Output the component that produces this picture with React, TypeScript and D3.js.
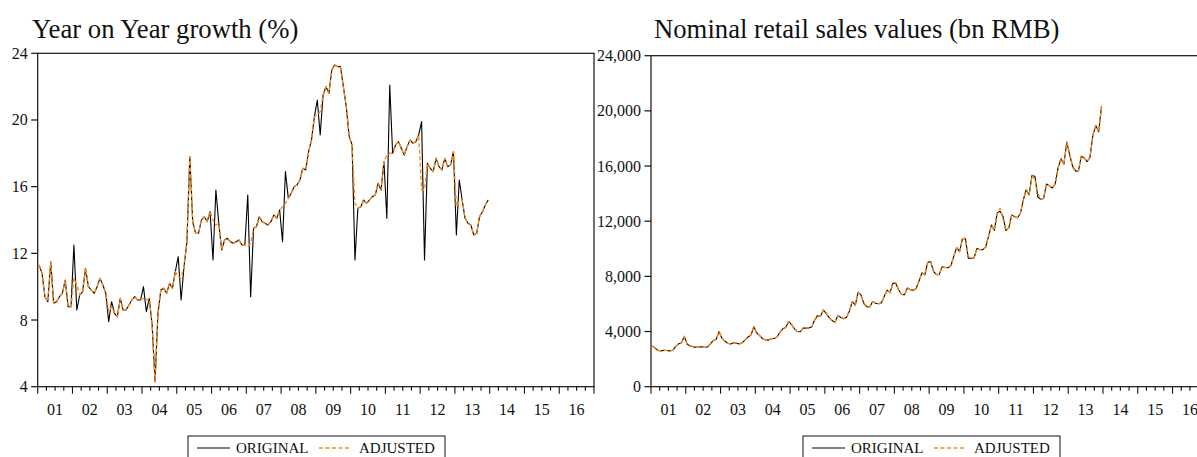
import React from 'react';
import * as d3 from 'd3';

// ---------- DATA ----------
const yearLabels = ['01','02','03','04','05','06','07','08','09','10','11','12','13','14','15','16'];
const yoyTicks = [4, 8, 12, 16, 20, 24];
const salesTicks = [0, 4000, 8000, 12000, 16000, 20000, 24000];
const legendLabels = ['ORIGINAL', 'ADJUSTED'];

const yoyOriginal = [
  11.3, 10.8, 9.4, 9.1, 11.5, 9.0, 9.1, 9.4, 9.6, 10.4, 8.8, 8.8,
  12.5, 8.6, 9.5, 9.7, 11.1, 10.0, 9.8, 9.6, 10.0, 10.5, 10.1, 9.6,
  7.9, 9.1, 8.4, 8.2, 9.3, 8.6, 8.6, 8.9, 9.2, 9.4, 9.2, 9.2,
  10.0, 8.5, 9.3, 7.7, 4.3, 8.4, 9.8, 9.9, 9.6, 10.2, 9.9, 10.9,
  11.8, 9.2, 11.2, 12.7, 17.8, 13.9, 13.2, 13.2, 14.0, 14.2, 13.9, 14.5,
  11.6, 15.8, 13.8, 12.2, 12.8, 12.9, 12.7, 12.6, 12.7, 12.8, 12.5, 12.5,
  15.5, 9.4, 13.5, 13.6, 14.2, 13.9, 13.8, 13.7, 13.9, 14.3, 14.1, 14.6,
  12.7, 16.9, 15.3, 15.6, 16.0, 16.1, 16.4, 17.1, 17.0, 18.1, 18.8, 20.2,
  21.2, 19.1, 21.5, 22.0, 21.6, 23.0, 23.3, 23.2, 23.2, 22.0, 20.8, 19.0,
  18.5, 11.6, 14.7, 14.8, 15.2, 15.0, 15.2, 15.4, 15.5, 16.2, 15.8, 17.5,
  14.1, 22.1, 18.0, 18.5, 18.7, 18.3, 17.9, 18.4, 18.8, 18.6, 18.7, 19.1,
  19.9, 11.6, 17.4, 17.1, 16.9, 17.7, 17.2, 17.0, 17.7, 17.2, 17.3, 18.1,
  13.1, 16.4, 15.2, 14.1, 13.8, 13.7, 13.1, 13.2, 14.2, 14.5, 14.9, 15.2,
];

const yoyAdjusted = [
  11.3, 10.8, 9.4, 9.1, 11.5, 9.0, 9.1, 9.4, 9.6, 10.4, 8.8, 8.8,
  10.5, 10.1, 9.5, 9.7, 11.1, 10.0, 9.8, 9.6, 10.0, 10.5, 10.1, 9.6,
  8.5, 8.8, 8.4, 8.2, 9.3, 8.6, 8.6, 8.9, 9.2, 9.4, 9.2, 9.2,
  9.3, 9.2, 9.3, 7.7, 4.3, 8.4, 9.8, 9.9, 9.6, 10.2, 9.9, 10.9,
  10.6, 10.5, 11.2, 12.7, 17.8, 13.9, 13.2, 13.2, 14.0, 14.2, 13.9, 14.5,
  14.0, 13.7, 13.8, 12.2, 12.8, 12.9, 12.7, 12.6, 12.7, 12.8, 12.5, 12.5,
  12.4, 12.6, 13.5, 13.6, 14.2, 13.9, 13.8, 13.7, 13.9, 14.3, 14.1, 14.6,
  14.8, 15.0, 15.3, 15.6, 16.0, 16.1, 16.4, 17.1, 17.0, 18.1, 18.8, 20.2,
  20.3, 20.5, 21.5, 22.0, 21.6, 23.0, 23.3, 23.2, 23.2, 22.0, 20.8, 19.0,
  18.5, 15.0, 14.7, 14.8, 15.2, 15.0, 15.2, 15.4, 15.5, 16.2, 15.8, 17.5,
  17.9, 18.0, 18.0, 18.5, 18.7, 18.3, 17.9, 18.4, 18.8, 18.6, 18.7, 19.1,
  15.8, 15.8, 17.4, 17.1, 16.9, 17.7, 17.2, 17.0, 17.7, 17.2, 17.3, 18.1,
  14.8, 15.1, 15.2, 14.1, 13.8, 13.7, 13.1, 13.2, 14.2, 14.5, 14.9, 15.2,
];

const salesOriginal = [
  2950, 2780, 2620, 2600, 2640, 2620, 2600, 2640, 2900, 3100, 3180, 3650,
  3080, 2960, 2900, 2850, 2880, 2900, 2850, 2880, 3100, 3350, 3440, 3990,
  3500, 3300, 3150, 3100, 3180, 3150, 3100, 3200, 3390, 3600, 3750, 4350,
  3900, 3700, 3480, 3400, 3380, 3480, 3500, 3600, 3950, 4200, 4290, 4730,
  4500, 4200, 4000, 3980, 4250, 4250, 4250, 4350, 4850, 5150, 5100, 5560,
  5300, 5012, 4799, 4663, 5175, 5014, 4935, 5040, 5495, 6176, 5909, 6850,
  6645, 6001, 5799, 5783, 6170, 6053, 6012, 6078, 6554, 6998, 6822, 7501,
  7489, 7015, 6686, 6674, 7157, 7027, 6998, 7117, 7668, 8265, 8105, 9016,
  9077, 8355, 8123, 8142, 8703, 8643, 8629, 8768, 9447, 10083, 9791, 10729,
  10757, 9324, 9317, 9343, 10028, 9942, 9937, 10116, 10913, 11718, 11339, 12610,
  12718, 12335, 11322, 11510, 12455, 12330, 12252, 12570, 13537, 14285, 13911, 15330,
  15249, 13769, 13588, 13649, 14697, 14565, 14408, 14705, 15865, 16546, 16128, 17740,
  16800, 16000, 15650, 15603, 16715, 16584, 16315, 16630, 18227, 18934, 18477, 20334,
];

const salesAdjusted = [
  2950, 2780, 2620, 2600, 2640, 2620, 2600, 2640, 2900, 3100, 3180, 3650,
  3055, 2980, 2900, 2850, 2880, 2900, 2850, 2880, 3100, 3350, 3440, 3990,
  3508, 3296, 3150, 3100, 3180, 3150, 3100, 3200, 3390, 3600, 3750, 4350,
  3888, 3712, 3480, 3400, 3380, 3480, 3500, 3600, 3950, 4200, 4290, 4730,
  4476, 4225, 4000, 3980, 4250, 4250, 4250, 4350, 4850, 5150, 5100, 5560,
  5357, 4966, 4799, 4663, 5175, 5014, 4935, 5040, 5495, 6176, 5909, 6850,
  6556, 6089, 5799, 5783, 6170, 6053, 6012, 6078, 6554, 6998, 6822, 7501,
  7559, 6958, 6686, 6674, 7157, 7027, 6998, 7117, 7668, 8265, 8105, 9016,
  9043, 8404, 8123, 8142, 8703, 8643, 8629, 8768, 9447, 10083, 9791, 10729,
  10757, 9466, 9317, 9343, 10028, 9942, 9937, 10116, 10913, 11718, 11339, 12610,
  12930, 12128, 11322, 11510, 12455, 12330, 12252, 12570, 13537, 14285, 13911, 15330,
  14988, 14028, 13588, 13649, 14697, 14565, 14408, 14705, 15865, 16546, 16128, 17740,
  16926, 15910, 15650, 15603, 16715, 16584, 16315, 16630, 18227, 18934, 18477, 20334,
];

// ---------- LAYOUT ----------
const W = 1197;
const H = 457;
const FONT = '"Liberation Serif", "Times New Roman", "DejaVu Serif", serif';
const ORANGE = '#ff8c1a';
const AXIS = '#111';

type PanelProps = {
  left: number;
  top: number;
  bottom: number;
  domain: [number, number];
  ticks: number[];
  fmt: (v: number) => string;
  original: number[];
  adjusted: number[];
  title: string;
  titleX: number;
  legendX: number;
};

function Panel(p: PanelProps) {
  const width = 556.3;
  const nMonths = yearLabels.length * 12;
  const x = d3.scaleLinear().domain([0, nMonths]).range([p.left, p.left + width]);
  const y = d3.scaleLinear().domain(p.domain).range([p.bottom, p.top]);
  const line = d3
    .line<number>()
    .x((_, i) => x(i + 0.5))
    .y((d) => y(d));

  const tickMonths = d3.range(0, nMonths + 1, 3);

  return (
    <g>
      <text x={p.titleX} y={37.5} fontFamily={FONT} fontSize={26.7} fill="#111">
        {p.title}
      </text>

      {/* y ticks and labels */}
      {p.ticks.map((t) => (
        <g key={'y' + t}>
          <line x1={p.left - 6.5} x2={p.left} y1={y(t)} y2={y(t)} stroke={AXIS} strokeWidth={1.2} />
          <text
            x={p.left - 10}
            y={y(t) + 5.5}
            textAnchor="end"
            fontFamily={FONT}
            fontSize={16}
            fill="#111"
          >
            {p.fmt(t)}
          </text>
        </g>
      ))}

      {/* x ticks */}
      {tickMonths.map((m) => {
        const major = m % 12 === 0;
        return (
          <line
            key={'x' + m}
            x1={x(m)}
            x2={x(m)}
            y1={p.bottom}
            y2={p.bottom + (major ? 7 : 4)}
            stroke={AXIS}
            strokeWidth={1.1}
          />
        );
      })}
      {yearLabels.map((lab, k) => (
        <text
          key={'xl' + lab}
          x={x(k * 12 + 6)}
          y={415}
          textAnchor="middle"
          fontFamily={FONT}
          fontSize={16}
          fill="#111"
        >
          {lab}
        </text>
      ))}

      {/* series */}
      <path d={line(p.original) || ''} fill="none" stroke="#000" strokeWidth={1.1} strokeLinejoin="round" />
      <path
        d={line(p.adjusted) || ''}
        fill="none"
        stroke={ORANGE}
        strokeWidth={1.4}
        strokeDasharray="4 2.5"
        strokeLinejoin="round"
      />

      {/* frame */}
      <rect
        x={p.left}
        y={p.top}
        width={width}
        height={p.bottom - p.top}
        fill="none"
        stroke={AXIS}
        strokeWidth={1.2}
      />

      {/* legend */}
      <g>
        <rect x={p.legendX} y={436} width={257} height={30} fill="#fff" stroke={AXIS} strokeWidth={1} />
        <line x1={p.legendX + 9} x2={p.legendX + 42} y1={448} y2={448} stroke="#000" strokeWidth={1.1} />
        <text x={p.legendX + 48} y={453} fontFamily={FONT} fontSize={15} fill="#111">
          {legendLabels[0]}
        </text>
        <line
          x1={p.legendX + 131}
          x2={p.legendX + 161}
          y1={448}
          y2={448}
          stroke={ORANGE}
          strokeWidth={1.4}
          strokeDasharray="4 2.5"
        />
        <text x={p.legendX + 171} y={453} fontFamily={FONT} fontSize={15} fill="#111">
          {legendLabels[1]}
        </text>
      </g>
    </g>
  );
}

export default function App() {
  const fmtInt = (v: number) => String(v);
  const fmtComma = d3.format(',');
  return (
    <svg
      width={W}
      height={H}
      viewBox={`0 0 ${W} ${H}`}
      style={{ position: 'absolute', left: 0, top: 0, background: '#fff' }}
    >
      <rect x={0} y={0} width={W} height={H} fill="#fff" />
      <Panel
        left={37.7}
        top={53.3}
        bottom={386.7}
        domain={[4, 24]}
        ticks={yoyTicks}
        fmt={fmtInt}
        original={yoyOriginal}
        adjusted={yoyAdjusted}
        title="Year on Year growth (%)"
        titleX={32}
        legendX={188}
      />
      <Panel
        left={651}
        top={55.7}
        bottom={386.7}
        domain={[0, 24000]}
        ticks={salesTicks}
        fmt={(v) => fmtComma(v)}
        original={salesOriginal}
        adjusted={salesAdjusted}
        title="Nominal retail sales values (bn RMB)"
        titleX={654}
        legendX={803}
      />
    </svg>
  );
}
